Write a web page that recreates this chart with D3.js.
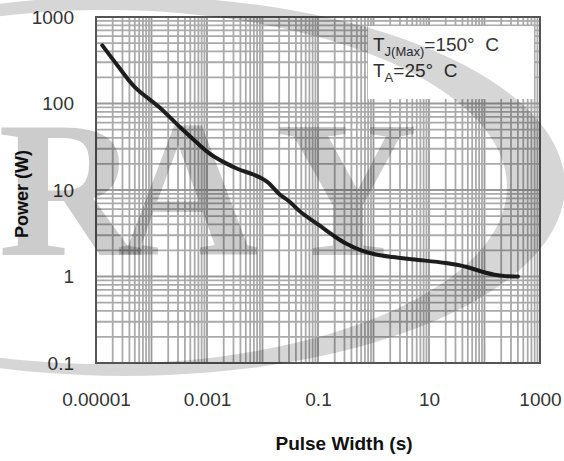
<!DOCTYPE html>
<html><head><meta charset="utf-8">
<script src="https://cdn.jsdelivr.net/npm/d3@7/dist/d3.min.js"></script>
<style>
body{margin:0;background:#fff}
</style>
</head><body>
<svg id="c" width="564" height="461"></svg>
<script>
// ---- data ----
const pulseWidth = [1.3e-5, 2.5e-5, 5e-5, 1.4e-4, 3.4e-4, 7e-4, 1.1e-3, 2e-3, 3.6e-3, 7e-3, 1.2e-2, 0.02, 0.03, 0.05, 0.1, 0.2, 0.32, 0.6, 1.1, 2.2, 5.5, 20, 50, 85, 150, 240, 400];
const power      = [470,    270,    155,  90,     52,     34,   26.5,   21,   17.5,   15,   12.5,   9,    7.4,  5.5,  4.0, 2.9, 2.4,  2.0, 1.8, 1.68, 1.57, 1.43, 1.28, 1.15, 1.05, 1.01, 1.0];
const xTickValues = [1e-5, 1e-3, 1e-1, 10, 1000];
const xTickLabels = ["0.00001", "0.001", "0.1", "10", "1000"];
const yTickValues = [0.1, 1, 10, 100, 1000];
const yTickLabels = ["0.1", "1", "10", "100", "1000"];
const xTitle = "Pulse Width (s)";
const yTitle = "Power (W)";
const legendLines = [
  {main: "T", sub: "J(Max)", rest: "=150°  C"},
  {main: "T", sub: "A", rest: "=25°  C"}
];
const watermarkLetters = ["R", "A", "Y"];

// ---- layout ----
const SANS = '"Liberation Sans",Arial,sans-serif';
const SERIF = '"Liberation Serif","Times New Roman",serif';
const L = 96, R = 540, T = 17, B = 363;
const svg = d3.select("#c");
const x = d3.scaleLog().domain([1e-5, 1000]).range([L, R]);
const y = d3.scaleLog().domain([0.1, 1000]).range([B, T]);

// grid values derived from the scale's decades
function logGrid(domain) {
  const out = [];
  const k0 = Math.round(Math.log10(domain[0])), k1 = Math.round(Math.log10(domain[1]));
  for (let k = k0; k < k1; k++) for (let m = 1; m <= 9; m++) out.push(m * Math.pow(10, k));
  out.push(Math.pow(10, k1));
  return out;
}
const gx = logGrid(x.domain()), gy = logGrid(y.domain());
const isMajor = d => Math.abs(Math.log10(d) - Math.round(Math.log10(d))) < 1e-9;

const grid = svg.append("g");
grid.selectAll("line.vx").data(gx).join("line")
  .attr("x1", d => x(d)).attr("x2", d => x(d)).attr("y1", T).attr("y2", B)
  .attr("stroke", d => isMajor(d) ? "#999" : "#aaa").attr("stroke-width", 1.8);
grid.selectAll("line.hy").data(gy).join("line")
  .attr("y1", d => y(d)).attr("y2", d => y(d)).attr("x1", L).attr("x2", R)
  .attr("stroke", d => isMajor(d) ? "#999" : "#aaa").attr("stroke-width", 1.8);

// legend box
const lg = svg.append("g");
lg.append("rect").attr("x", 368).attr("y", 26).attr("width", 166).attr("height", 73).attr("fill", "#fff");
legendLines.forEach((l, i) => {
  const t = lg.append("text").attr("x", 373).attr("y", 51 + i * 26)
    .attr("font-size", 19).attr("fill", "#333").style("font-family", SANS).style("white-space", "pre");
  t.append("tspan").text(l.main);
  t.append("tspan").attr("font-size", 13).attr("dy", 5).text(l.sub);
  t.append("tspan").attr("dy", -5).text(l.rest);
});

// curve
const pts = pulseWidth.map((d, i) => [x(d), y(power[i])]);
svg.append("path").attr("d", d3.line().curve(d3.curveCatmullRom.alpha(0.5))(pts))
  .attr("fill", "none").attr("stroke", "#1e1e1e").attr("stroke-width", 4)
  .attr("stroke-linecap", "round").attr("stroke-linejoin", "round");

// frame
svg.append("rect").attr("x", L).attr("y", T).attr("width", R - L).attr("height", B - T)
  .attr("fill", "none").attr("stroke", "#555").attr("stroke-width", 2);

// axes
const xa = svg.append("g").attr("transform", `translate(0,${B})`)
  .call(d3.axisBottom(x).tickValues(xTickValues).tickFormat((d, i) => xTickLabels[i]).tickSize(0).tickPadding(30));
xa.select(".domain").remove();
xa.selectAll("text").attr("font-size", 19).attr("fill", "#333").style("font-family", SANS);
const ya = svg.append("g").attr("transform", `translate(${L},0)`)
  .call(d3.axisLeft(y).tickValues(yTickValues).tickFormat((d, i) => yTickLabels[i]).tickSize(0).tickPadding(22));
ya.select(".domain").remove();
ya.selectAll("text").attr("font-size", 19).attr("fill", "#333").style("font-family", SANS);

// titles
svg.append("text").attr("x", 344).attr("y", 450).attr("text-anchor", "middle").style("font-family", SANS)
  .attr("font-size", 19).attr("font-weight", "bold").attr("fill", "#111").text(xTitle);
svg.append("text").attr("transform", "translate(28,194) rotate(-90)").attr("text-anchor", "middle").style("font-family", SANS)
  .attr("font-size", 18).attr("font-weight", "bold").attr("fill", "#111").text(yTitle);

// watermark (logo ring + letters)
const wm = svg.append("g").attr("pointer-events", "none");
function ell(cx, cy, rx, ry) {
  return `M${cx - rx},${cy}a${rx},${ry} 0 1,0 ${2 * rx},0a${rx},${ry} 0 1,0 ${-2 * rx},0Z`;
}
wm.append("path").attr("d", ell(125, 186, 440, 190) + ell(105, 187, 402, 177))
  .attr("fill-rule", "evenodd").attr("fill", "#000").attr("fill-opacity", 0.16);
const wmX = [-2, 117, 276];
wm.selectAll("text.wm").data(watermarkLetters).join("text")
  .attr("x", (d, i) => wmX[i]).attr("y", 255)
  .style("font-family", SERIF).attr("font-weight", "bold")
  .attr("font-size", 196).attr("fill", "#000").attr("fill-opacity", 0.2).text(d => d);
</script>
</body></html>
